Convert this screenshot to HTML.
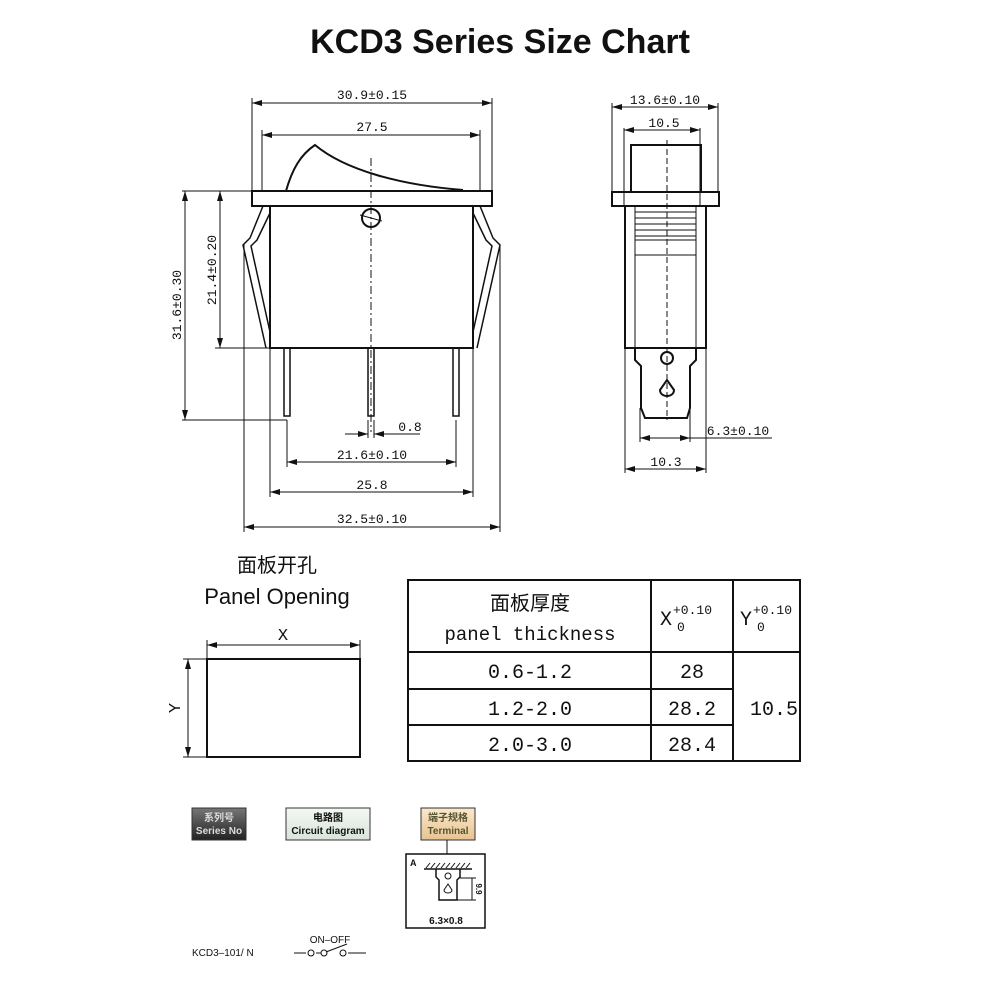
<!DOCTYPE html>
<html><head><meta charset="utf-8"><style>
html,body{margin:0;padding:0;background:#fff}
svg{display:block}
text{font-family:"Liberation Sans","Noto Sans CJK SC",sans-serif;fill:#111}
.m{font-family:"Liberation Mono","Noto Sans CJK SC",monospace}
</style></head><body>
<svg width="1000" height="1000" viewBox="0 0 1000 1000" xmlns="http://www.w3.org/2000/svg">
<defs>
<marker id="a" markerWidth="10" markerHeight="6" refX="10" refY="3" orient="auto-start-reverse" markerUnits="userSpaceOnUse"><path d="M0,0 L10,3 L0,6z" fill="#111"/></marker>
<linearGradient id="g1" x1="0" y1="0" x2="0" y2="1"><stop offset="0" stop-color="#777"/><stop offset="1" stop-color="#222"/></linearGradient>
<linearGradient id="g2" x1="0" y1="0" x2="0" y2="1"><stop offset="0" stop-color="#f4f8f4"/><stop offset="1" stop-color="#d8e4da"/></linearGradient>
<linearGradient id="g3" x1="0" y1="0" x2="0" y2="1"><stop offset="0" stop-color="#fbe8cc"/><stop offset="1" stop-color="#e7c38f"/></linearGradient>
</defs>
<text x="500" y="53" text-anchor="middle" font-size="34" font-weight="bold">KCD3 Series Size Chart</text>

<g stroke="#111" fill="none" stroke-width="1">
<!-- main front view -->
<path d="M286,191 C292,170 300,155 315,145 C345,170 400,185 463,190" stroke-width="2"/>
<rect x="252" y="191" width="240" height="15" stroke-width="2"/>
<rect x="270" y="206" width="203" height="142" stroke-width="2"/>
<path d="M263,206 L250,238 L243,245 L266,348 M270,213 L257,240 L251,246 L270,332" stroke-width="1.5"/>
<path d="M480,206 L493,238 L500,245 L477,348 M473,213 L486,240 L492,246 L473,332" stroke-width="1.5"/>
<line x1="371" y1="158" x2="371" y2="432" stroke-dasharray="8,3,2,3"/>
<circle cx="371" cy="218" r="9" stroke-width="2"/>
<line x1="360" y1="215" x2="382" y2="221"/>
<rect x="284" y="348" width="6" height="68" stroke-width="1.5"/>
<rect x="368" y="348" width="6" height="68" stroke-width="1.5"/>
<rect x="453" y="348" width="6" height="68" stroke-width="1.5"/>
<!-- extension lines -->
<line x1="252" y1="98" x2="252" y2="191"/><line x1="492" y1="98" x2="492" y2="191"/>
<line x1="262" y1="130" x2="262" y2="191"/><line x1="480" y1="130" x2="480" y2="191"/>
<line x1="182" y1="191" x2="252" y2="191"/><line x1="215" y1="348" x2="270" y2="348"/>
<line x1="182" y1="420" x2="287" y2="420"/>
<line x1="287" y1="420" x2="287" y2="467"/><line x1="456" y1="420" x2="456" y2="467"/>
<line x1="270" y1="348" x2="270" y2="497"/><line x1="473" y1="348" x2="473" y2="497"/>
<line x1="244" y1="245" x2="244" y2="532"/><line x1="500" y1="245" x2="500" y2="532"/>
<line x1="368" y1="420" x2="368" y2="438"/><line x1="374" y1="420" x2="374" y2="438"/>
<!-- dims -->
<line x1="252" y1="103" x2="492" y2="103" marker-start="url(#a)" marker-end="url(#a)"/>
<line x1="262" y1="135" x2="480" y2="135" marker-start="url(#a)" marker-end="url(#a)"/>
<line x1="185" y1="191" x2="185" y2="420" marker-start="url(#a)" marker-end="url(#a)"/>
<line x1="220" y1="191" x2="220" y2="348" marker-start="url(#a)" marker-end="url(#a)"/>
<line x1="345" y1="434" x2="368" y2="434" marker-end="url(#a)"/>
<line x1="420" y1="434" x2="374" y2="434" marker-end="url(#a)"/>
<line x1="287" y1="462" x2="456" y2="462" marker-start="url(#a)" marker-end="url(#a)"/>
<line x1="270" y1="492" x2="473" y2="492" marker-start="url(#a)" marker-end="url(#a)"/>
<line x1="244" y1="527" x2="500" y2="527" marker-start="url(#a)" marker-end="url(#a)"/>

<!-- side view -->
<rect x="631" y="145" width="70" height="47" stroke-width="2"/>
<rect x="612" y="192" width="107" height="14" stroke-width="2"/>
<rect x="625" y="206" width="81" height="142" stroke-width="2"/>
<line x1="635" y1="206" x2="635" y2="348"/><line x1="696" y1="206" x2="696" y2="348"/>
<path d="M635,212 H696 M635,218 H696 M635,224 H696 M635,230 H696 M635,236 H696 M635,240 H696 M635,255 H696"/>
<path d="M635,348 L635,360 L641,366 L641,408 L645,418 L687,418 L690,408 L690,366 L696,360 L696,348" stroke-width="2"/>
<circle cx="667" cy="358" r="6" stroke-width="2"/>
<path d="M667,380 L660,390 C660,398 674,398 674,390 Z" stroke-width="2"/>
<line x1="667" y1="140" x2="667" y2="420" stroke-dasharray="6,3"/>
<line x1="612" y1="103" x2="612" y2="192"/><line x1="718" y1="103" x2="718" y2="192"/>
<line x1="624" y1="128" x2="624" y2="206"/><line x1="700" y1="128" x2="700" y2="206"/>
<line x1="640" y1="408" x2="640" y2="442"/><line x1="690" y1="408" x2="690" y2="442"/>
<line x1="625" y1="348" x2="625" y2="473"/><line x1="706" y1="348" x2="706" y2="473"/>
<line x1="612" y1="107" x2="718" y2="107" marker-start="url(#a)" marker-end="url(#a)"/>
<line x1="624" y1="130" x2="700" y2="130" marker-start="url(#a)" marker-end="url(#a)"/>
<line x1="640" y1="438" x2="690" y2="438" marker-start="url(#a)" marker-end="url(#a)"/>
<line x1="690" y1="438" x2="772" y2="438"/>
<line x1="625" y1="469" x2="706" y2="469" marker-start="url(#a)" marker-end="url(#a)"/>

<!-- panel opening -->
<rect x="207" y="659" width="153" height="98" stroke-width="2"/>
<line x1="207" y1="640" x2="207" y2="659"/><line x1="360" y1="640" x2="360" y2="659"/>
<line x1="207" y1="645" x2="360" y2="645" marker-start="url(#a)" marker-end="url(#a)"/>
<line x1="183" y1="659" x2="207" y2="659"/><line x1="183" y1="757" x2="207" y2="757"/>
<line x1="188" y1="659" x2="188" y2="757" marker-start="url(#a)" marker-end="url(#a)"/>

<!-- table -->
<rect x="408" y="580" width="392" height="181" stroke-width="2"/>
<line x1="651" y1="580" x2="651" y2="761" stroke-width="2"/>
<line x1="733" y1="580" x2="733" y2="761" stroke-width="2"/>
<line x1="408" y1="652" x2="800" y2="652" stroke-width="2"/>
<line x1="408" y1="689" x2="733" y2="689" stroke-width="2"/>
<line x1="408" y1="725" x2="733" y2="725" stroke-width="2"/>

<!-- bottom -->
<rect x="192" y="808" width="54" height="32" fill="url(#g1)" stroke="#333"/>
<rect x="286" y="808" width="84" height="32" fill="url(#g2)" stroke="#333"/>
<rect x="421" y="808" width="54" height="32" fill="url(#g3)" stroke="#333"/>
<line x1="447" y1="840" x2="447" y2="854"/>
<rect x="406" y="854" width="79" height="74" stroke-width="1.5"/>
<line x1="424" y1="869" x2="472" y2="869" stroke-width="1.5"/>
<path d="M426,868 l4,-5 M431,868 l4,-5 M436,868 l4,-5 M441,868 l4,-5 M446,868 l4,-5 M451,868 l4,-5 M456,868 l4,-5 M461,868 l4,-5 M466,868 l4,-5"/>
<path d="M436,869 L436,877 L439,880 L439,900 L457,900 L457,880 L460,877 L460,869" stroke-width="1.5"/>
<circle cx="448" cy="876" r="3"/>
<path d="M448,884 L444,890 C444,894 452,894 452,890Z"/>
<line x1="460" y1="878" x2="476" y2="878"/><line x1="457" y1="900" x2="476" y2="900"/>
<line x1="472" y1="878" x2="472" y2="900"/>
<path d="M294,953 L306,953 M316,953 L321,953 M348,953 L366,953"/>
<circle cx="311" cy="953" r="3"/><circle cx="324" cy="953" r="3"/><circle cx="343" cy="953" r="3"/>
<line x1="326" y1="952" x2="347" y2="944"/>
</g>

<g font-size="13" class="m">
<text x="372" y="99" text-anchor="middle" class="m">30.9±0.15</text>
<text x="372" y="131" text-anchor="middle" class="m">27.5</text>
<text x="410" y="431" text-anchor="middle" class="m">0.8</text>
<text x="372" y="459" text-anchor="middle" class="m">21.6±0.10</text>
<text x="372" y="489" text-anchor="middle" class="m">25.8</text>
<text x="372" y="523" text-anchor="middle" class="m">32.5±0.10</text>
<text x="181" y="305" text-anchor="middle" transform="rotate(-90 181 305)" class="m">31.6±0.30</text>
<text x="216" y="270" text-anchor="middle" transform="rotate(-90 216 270)" class="m">21.4±0.20</text>
<text x="665" y="104" text-anchor="middle" class="m">13.6±0.10</text>
<text x="664" y="127" text-anchor="middle" class="m">10.5</text>
<text x="738" y="435" text-anchor="middle" class="m">6.3±0.10</text>
<text x="666" y="466" text-anchor="middle" class="m">10.3</text>
</g>

<text x="277" y="572" text-anchor="middle" font-size="20">面板开孔</text>
<text x="277" y="604" text-anchor="middle" font-size="22">Panel Opening</text>
<text x="283" y="640" text-anchor="middle" font-size="17" class="m">X</text>
<text x="180" y="708" text-anchor="middle" font-size="17" class="m" transform="rotate(-90 180 708)">Y</text>

<text x="530" y="610" text-anchor="middle" font-size="20">面板厚度</text>
<text x="530" y="640" text-anchor="middle" font-size="19" class="m">panel thickness</text>
<text x="660" y="625" font-size="20" class="m">X</text>
<text x="673" y="614" font-size="13" class="m">+0.10</text>
<text x="677" y="631" font-size="13" class="m">0</text>
<text x="740" y="625" font-size="20" class="m">Y</text>
<text x="753" y="614" font-size="13" class="m">+0.10</text>
<text x="757" y="631" font-size="13" class="m">0</text>
<g font-size="20" class="m" text-anchor="middle">
<text x="530" y="678" class="m">0.6-1.2</text>
<text x="530" y="715" class="m">1.2-2.0</text>
<text x="530" y="751" class="m">2.0-3.0</text>
<text x="692" y="678" class="m">28</text>
<text x="692" y="715" class="m">28.2</text>
<text x="692" y="751" class="m">28.4</text>
<text x="774" y="715" class="m">10.5</text>
</g>

<g font-size="10" font-weight="bold" text-anchor="middle">
<text x="219" y="821" style="fill:#ddd">系列号</text>
<text x="219" y="834" style="fill:#ddd">Series No</text>
<text x="328" y="821">电路图</text>
<text x="328" y="834">Circuit diagram</text>
<text x="448" y="821" style="fill:#553">端子规格</text>
<text x="448" y="834" style="fill:#553">Terminal</text>
</g>
<text x="410" y="866" font-size="9" font-weight="bold">A</text>
<text x="476" y="889" font-size="8" font-weight="bold" transform="rotate(90 476 889)" text-anchor="middle">9.9</text>
<text x="446" y="924" font-size="10" font-weight="bold" text-anchor="middle">6.3×0.8</text>
<text x="330" y="943" font-size="10" text-anchor="middle">ON–OFF</text>
<text x="192" y="956" font-size="10">KCD3–101/ N</text>
</svg>
</body></html>
